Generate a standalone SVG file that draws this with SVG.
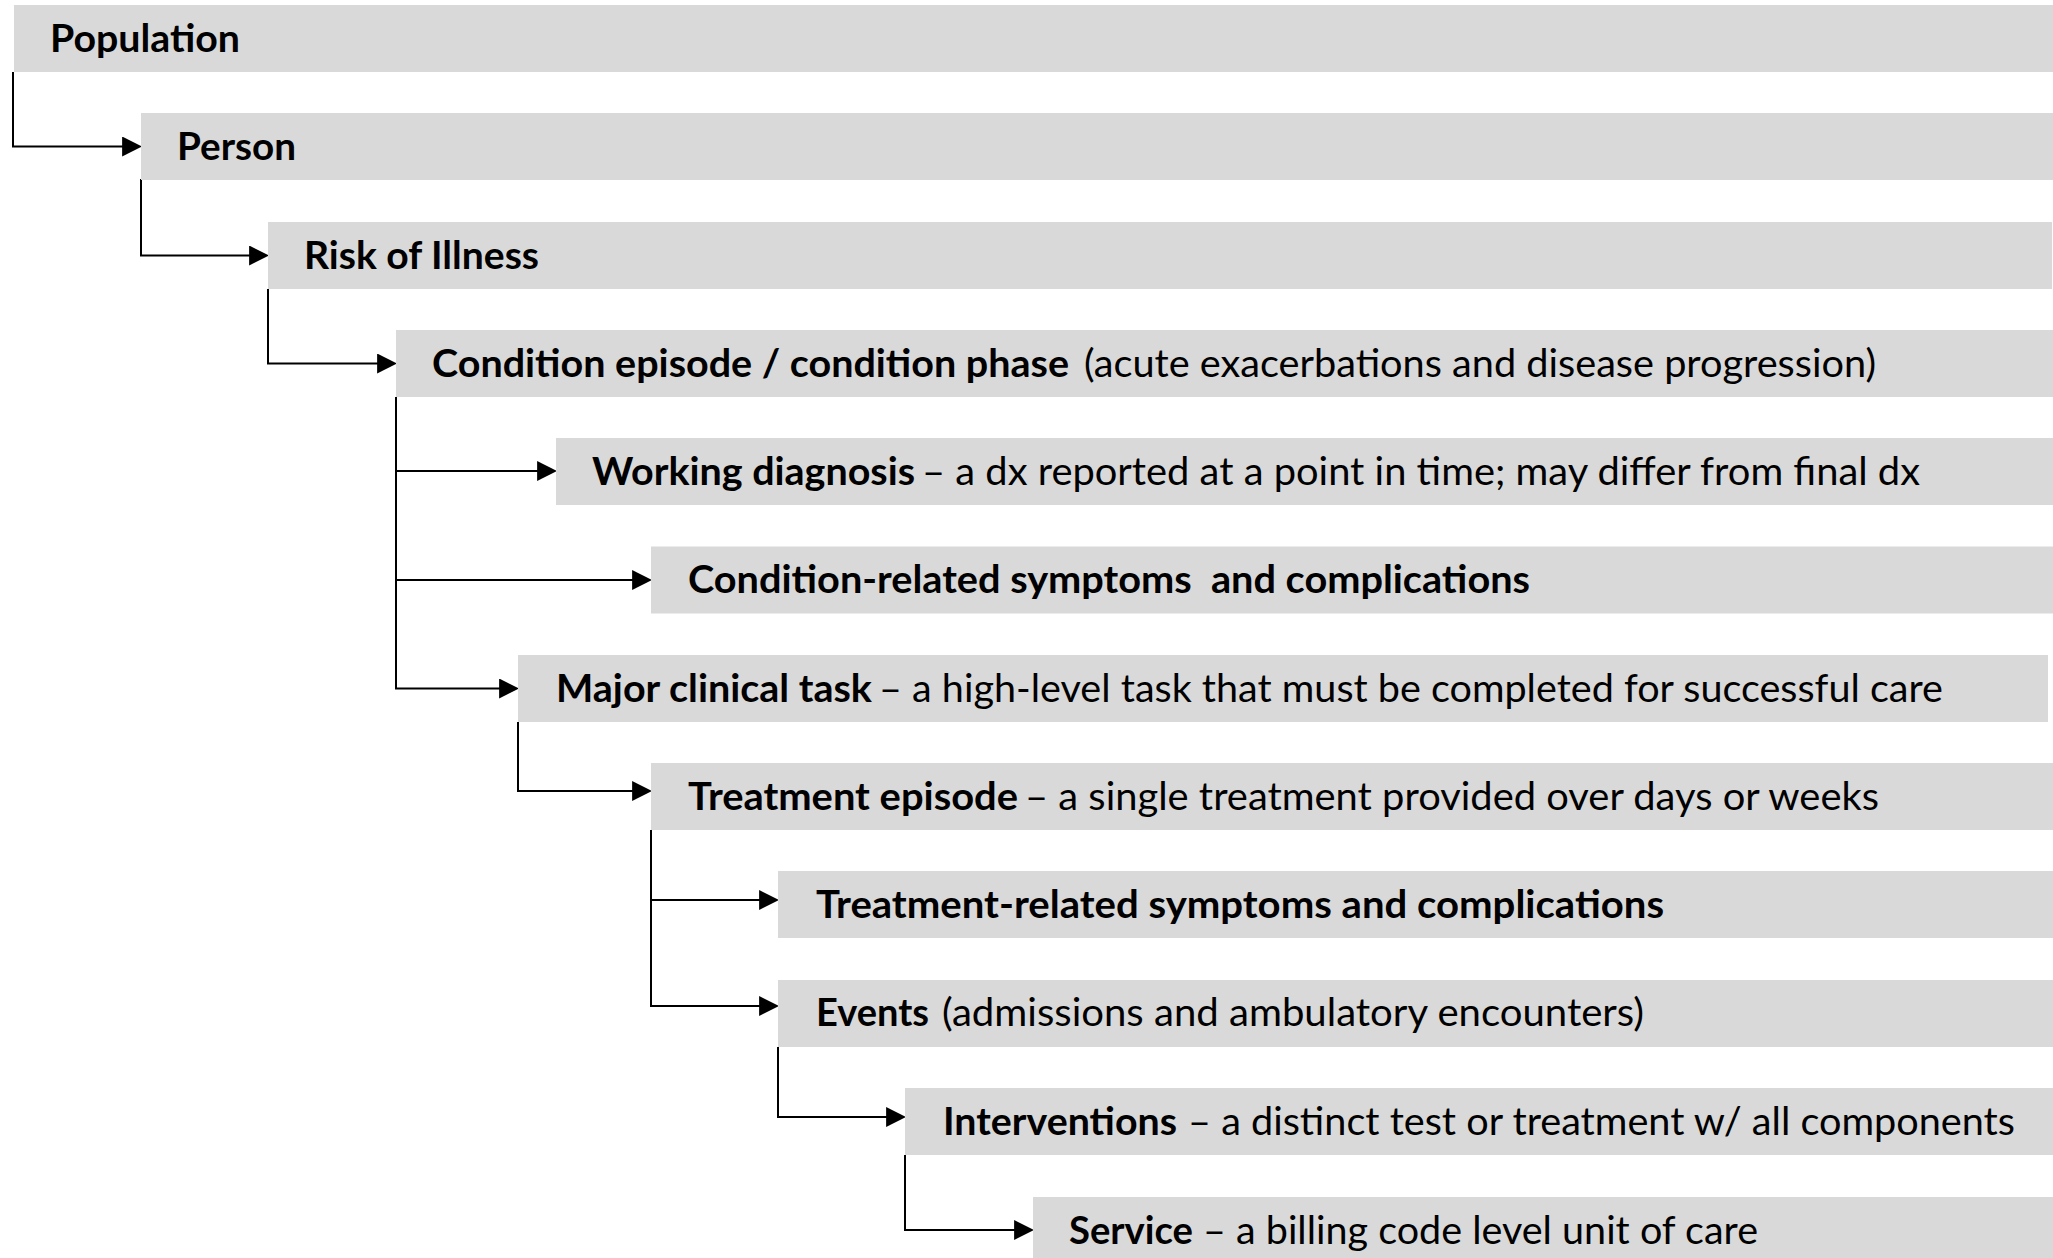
<svg xmlns="http://www.w3.org/2000/svg" width="2053" height="1258" viewBox="0 0 2053 1258">
<defs>
<style>
.bar{fill:#d9d9d9}
.t{font-family:Lato,"Open Sans","Liberation Sans",sans-serif;font-size:39px;fill:#000;white-space:pre}
.b{font-weight:700}
.r{font-weight:400}
.c{fill:none;stroke:#000;stroke-width:2;marker-end:url(#ah)}
</style>
<marker id="ah" markerUnits="userSpaceOnUse" markerWidth="20" markerHeight="20" viewBox="0 0 18 18" refX="8" refY="9" orient="auto">
<path d="M0,0 L18,9 L0,18 Z" fill="#000"/>
</marker>
</defs>
<rect width="2053" height="1258" fill="#fff"/>
<g id="connectors">
<path class="c" d="M13,72 V146.5 H131"/>
<path class="c" d="M141,179 V255.5 H258"/>
<path class="c" d="M268,289 V363.5 H386"/>
<path class="c" d="M396,397 V471 H546"/>
<path class="c" d="M396,397 V580 H641"/>
<path class="c" d="M396,397 V688.5 H508"/>
<path class="c" d="M518,722 V791 H641"/>
<path class="c" d="M651,830 V900 H768"/>
<path class="c" d="M651,830 V1006 H768"/>
<path class="c" d="M778,1047 V1117 H895"/>
<path class="c" d="M905,1155 V1230 H1023"/>
</g>
<g id="n1"><rect class="bar" x="14" y="5" width="2039" height="67"/>
<text class="t" y="51.5"><tspan class="b" x="50" textLength="190" lengthAdjust="spacingAndGlyphs">Population</tspan></text></g>
<g id="n2"><rect class="bar" x="141" y="113" width="1912" height="67"/>
<text class="t" y="159.5"><tspan class="b" x="177" textLength="119" lengthAdjust="spacingAndGlyphs">Person</tspan></text></g>
<g id="n3"><rect class="bar" x="268" y="222" width="1784" height="67"/>
<text class="t" y="268.5"><tspan class="b" x="304" textLength="235" lengthAdjust="spacingAndGlyphs">Risk of Illness</tspan></text></g>
<g id="n4"><rect class="bar" x="396" y="330" width="1657" height="67"/>
<text class="t" y="376.5"><tspan class="b" x="432" textLength="637" lengthAdjust="spacingAndGlyphs">Condition episode / condition phase</tspan><tspan class="r" x="1084" textLength="792" lengthAdjust="spacingAndGlyphs">(acute exacerbations and disease progression)</tspan></text></g>
<g id="n5"><rect class="bar" x="556" y="438" width="1497" height="67"/>
<text class="t" y="484.5"><tspan class="b" x="592" textLength="323" lengthAdjust="spacingAndGlyphs">Working diagnosis</tspan><tspan class="r" x="922" textLength="998" lengthAdjust="spacingAndGlyphs">– a dx reported at a point in time; may differ from final dx</tspan></text></g>
<g id="n6"><rect class="bar" x="651" y="546.5" width="1402" height="67"/>
<text class="t" y="593"><tspan class="b" x="688" textLength="842" lengthAdjust="spacingAndGlyphs">Condition-related symptoms  and complications</tspan></text></g>
<g id="n7"><rect class="bar" x="518" y="655" width="1530" height="67"/>
<text class="t" y="701.5"><tspan class="b" x="556" textLength="316" lengthAdjust="spacingAndGlyphs">Major clinical task</tspan><tspan class="r" x="879" textLength="1064" lengthAdjust="spacingAndGlyphs">– a high-level task that must be completed for successful care</tspan></text></g>
<g id="n8"><rect class="bar" x="651" y="763" width="1402" height="67"/>
<text class="t" y="809.5"><tspan class="b" x="688" textLength="330" lengthAdjust="spacingAndGlyphs">Treatment episode</tspan><tspan class="r" x="1025" textLength="854" lengthAdjust="spacingAndGlyphs">– a single treatment provided over days or weeks</tspan></text></g>
<g id="n9"><rect class="bar" x="778" y="871" width="1275" height="67"/>
<text class="t" y="917.5"><tspan class="b" x="816" textLength="848" lengthAdjust="spacingAndGlyphs">Treatment-related symptoms and complications</tspan></text></g>
<g id="n10"><rect class="bar" x="778" y="980" width="1275" height="67"/>
<text class="t" y="1026"><tspan class="b" x="816" textLength="113" lengthAdjust="spacingAndGlyphs">Events</tspan><tspan class="r" x="942" textLength="702" lengthAdjust="spacingAndGlyphs">(admissions and ambulatory encounters)</tspan></text></g>
<g id="n11"><rect class="bar" x="905" y="1088" width="1148" height="67"/>
<text class="t" y="1134.5"><tspan class="b" x="943" textLength="234" lengthAdjust="spacingAndGlyphs">Interventions</tspan><tspan class="r" x="1188" textLength="827" lengthAdjust="spacingAndGlyphs">– a distinct test or treatment w/ all components</tspan></text></g>
<g id="n12"><rect class="bar" x="1033" y="1197" width="1020" height="67"/>
<text class="t" y="1243.5"><tspan class="b" x="1069" textLength="124" lengthAdjust="spacingAndGlyphs">Service</tspan><tspan class="r" x="1203" textLength="555" lengthAdjust="spacingAndGlyphs">– a billing code level unit of care</tspan></text></g>
</svg>
